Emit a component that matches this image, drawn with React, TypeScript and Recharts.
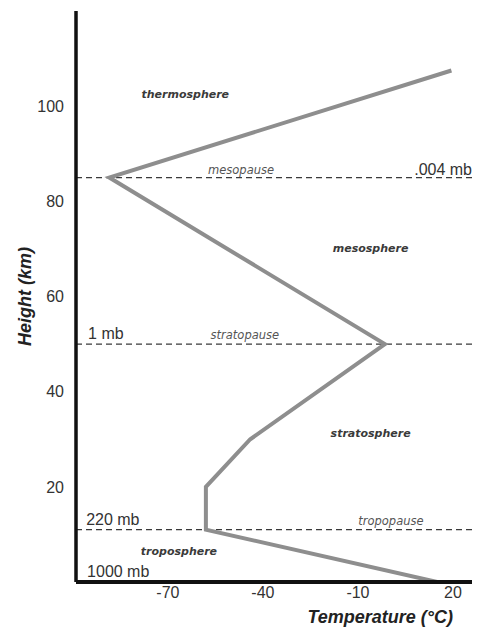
import { LineChart, Line, XAxis, YAxis, ReferenceLine, ReferenceDot, Label } from 'recharts'

// temperature profile (°C) against height (km)
const temperature = [15, -58, -58, -44, -1.5, -88.5, 19.5]
const height = [0, 11, 20, 30, 50, 85, 107.5]

const pauseHeights = [11, 50, 85]
const tempTicks = [-70, -40, -10, 20]
const heightTicks = [20, 40, 60, 80, 100]

const layerNames = ['troposphere', 'stratosphere', 'mesosphere', 'thermosphere']
const layerTemp = [-66.5, -6, -6, -64.5]
const layerHeight = [6.5, 31.3, 70, 102.4]

const pauseNames = ['tropopause', 'stratopause', 'mesopause']
const pauseTemp = [0.4, -45.7, -46.9]
const pauseLabelHeight = [12.8, 51.9, 86.6]

const pressureNames = ['1000 mb', '220 mb', '1 mb', '.004 mb']
const pressureTemp = [-95.5, -95.8, -95.2, 26]
const pressureHeight = [2.3, 13.2, 52.3, 86.6]

const data = temperature.map((t, i) => ({ temp: t, height: height[i] }))

const SANS = '"Liberation Sans", Arial, sans-serif'
const LABEL_FONT = '"DejaVu Sans", sans-serif'

export default function App() {
  return (
    <div style={{ position: 'absolute', left: 0, top: 0, width: 481, height: 628, background: '#fff', fontFamily: SANS }}>
      <LineChart width={481} height={628} data={data} margin={{ top: 11, right: 9, bottom: 0, left: 0 }}>
        <XAxis
          type="number"
          dataKey="temp"
          domain={[-99, 26]}
          ticks={tempTicks}
          allowDataOverflow
          height={46}
          tickSize={0}
          tickMargin={5}
          tickLine={false}
          axisLine={{ stroke: '#111', strokeWidth: 4 }}
          tick={{ fill: '#333', fontSize: 16, fontFamily: SANS }}
        >
          <Label
            content={({ viewBox }: any) => (
              <text
                x={viewBox.x + viewBox.width - 19}
                y={623}
                textAnchor="end"
                fontFamily={SANS}
                fontSize={18}
                fontWeight="bold"
                fontStyle="italic"
                fill="#222"
              >
                Temperature (°C)
              </text>
            )}
          />
        </XAxis>
        <YAxis
          type="number"
          dataKey="height"
          domain={[0, 120]}
          ticks={heightTicks}
          allowDataOverflow
          width={76}
          tickSize={0}
          tickMargin={12}
          tickLine={false}
          axisLine={{ stroke: '#111', strokeWidth: 3.5 }}
          tick={{ fill: '#333', fontSize: 16, fontFamily: SANS }}
        >
          <Label
            content={({ viewBox }: any) => {
              const cy = viewBox.y + viewBox.height / 2
              return (
                <text
                  x={31}
                  y={cy}
                  transform={`rotate(-90 31 ${cy})`}
                  textAnchor="middle"
                  fontFamily={SANS}
                  fontSize={18}
                  fontWeight="bold"
                  fontStyle="italic"
                  fill="#222"
                >
                  Height (km)
                </text>
              )
            }}
          />
        </YAxis>

        {pauseHeights.map((h) => (
          <ReferenceLine key={h} y={h} stroke="#3a3a3a" strokeWidth={1.3} strokeDasharray="6 4" />
        ))}

        <Line
          type="linear"
          dataKey="height"
          stroke="#8e8e8e"
          strokeWidth={4}
          dot={false}
          isAnimationActive={false}
        />

        {layerNames.map((name, i) => (
          <ReferenceDot
            key={name}
            x={layerTemp[i]}
            y={layerHeight[i]}
            r={0}
            shape={(p: any) => (
              <text
                x={p.cx}
                y={p.cy}
                textAnchor="middle"
                dominantBaseline="central"
                fontFamily={LABEL_FONT}
                fontSize={11}
                fontWeight="bold"
                fontStyle="italic"
                fill="#3a3a3a"
              >
                {name}
              </text>
            )}
          />
        ))}

        {pauseNames.map((name, i) => (
          <ReferenceDot
            key={name}
            x={pauseTemp[i]}
            y={pauseLabelHeight[i]}
            r={0}
            shape={(p: any) => (
              <text
                x={p.cx}
                y={p.cy}
                textAnchor="middle"
                dominantBaseline="central"
                fontFamily={LABEL_FONT}
                fontSize={11.5}
                fontStyle="italic"
                fill="#555"
              >
                {name}
              </text>
            )}
          />
        ))}

        {pressureNames.map((name, i) => (
          <ReferenceDot
            key={name}
            x={pressureTemp[i]}
            y={pressureHeight[i]}
            r={0}
            shape={(p: any) => (
              <text
                x={p.cx}
                y={p.cy}
                textAnchor={i === pressureNames.length - 1 ? 'end' : 'start'}
                dominantBaseline="central"
                fontFamily={SANS}
                fontSize={16}
                fill="#333"
              >
                {name}
              </text>
            )}
          />
        ))}
      </LineChart>
    </div>
  )
}
